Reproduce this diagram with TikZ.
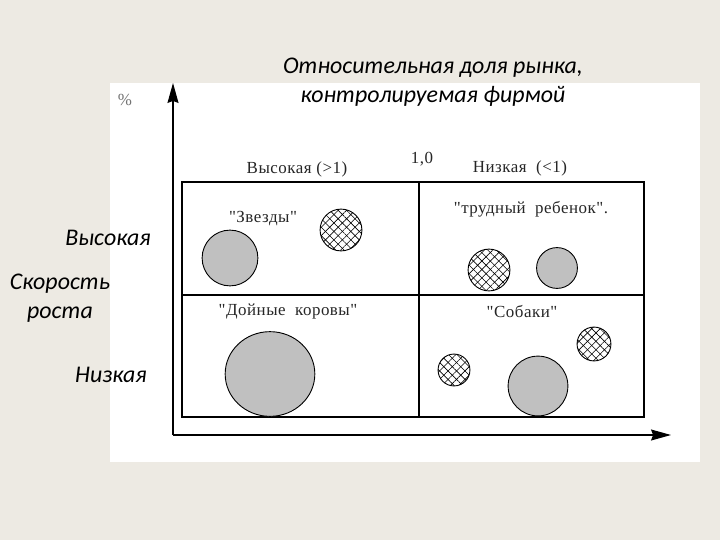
\documentclass[tikz,border=0pt]{standalone}
\usepackage{fontspec}
\setmainfont{Carlito}
\newfontfamily\scanfont[LetterSpace=3]{Liberation Serif}
\usepackage{tikz}
\usetikzlibrary{arrows.meta,positioning,shapes.geometric,patterns.meta}
\definecolor{slide}{HTML}{EDEAE3}
\definecolor{bubble}{HTML}{C0C0C0}

\begin{document}
\begin{tikzpicture}[x=1bp,y=-1bp,
  slidelabel/.style={font=\fontsize{24}{29}\selectfont\itshape,align=center,inner sep=0pt},
  scanlabel/.style={font=\fontsize{17}{20}\scanfont,text=black!85,inner sep=0pt},
  solid bubble/.style={circle,draw,line width=0.9pt,fill=bubble,inner sep=0pt},
  hatched bubble/.style={circle,draw,line width=0.9pt,inner sep=0pt,
    pattern={Lines[angle=45,distance=6pt,line width=0.6pt]},
    postaction={pattern={Lines[angle=-45,distance=6pt,line width=0.6pt]}}},
  axis/.style={line width=1.2pt,-{Stealth[length=20pt,width=11pt,inset=2pt]}}]
\useasboundingbox (0,0) rectangle (720,540);
\fill[slide] (0,0) rectangle (720,540);
\fill[white] (110,83) rectangle (700,462);
% axes
\coordinate (o) at (173,435);
\coordinate (ytip) at (173,83);
\coordinate (xtip) at (671,435);
\draw[axis] (o) -- (ytip);
\draw[axis] (o) -- (xtip);
% matrix
\draw[line width=1.2pt] (182,182) rectangle (644,417);
\draw[line width=1.2pt] (419,182) -- (419,417);
\draw[line width=1.2pt] (182,295) -- (644,295);
% slide texts
\node[slidelabel] (title) at (433,82) {Относительная доля рынка,\\контролируемая фирмой};
\node[slidelabel,anchor=east] (hi) at (151,238) {Высокая};
\node[slidelabel] (speed) at (60,298) {Скорость\\роста};
\node[slidelabel,anchor=east] (lo) at (147,375) {Низкая};
% scanned texts
\node[scanlabel,text=black!55] (pct) at (125,100) {\%};
\node[scanlabel] (one) at (422,159) {1,0};
\node[scanlabel] (high) at (297,169) {Высокая (>1)};
\node[scanlabel] (low) at (520,168) {Низкая~~(<1)};
\node[scanlabel] (stars) at (263,219) {"Звезды"};
\node[scanlabel] (child) at (531,209) {"трудный~ ребенок".};
\node[scanlabel] (cows) at (288,312) {"Дойные~ коровы"};
\node[scanlabel] (dogs) at (522,312) {"Собаки"};
% bubbles
\node[solid bubble,minimum size=56] (s1) at (230,258) {};
\node[hatched bubble,minimum size=42] (s2) at (341,230) {};
\node[hatched bubble,minimum size=42] (q1) at (489,270) {};
\node[solid bubble,minimum size=41] (q2) at (557,268) {};
\node[solid bubble,ellipse,minimum width=90,minimum height=85] (c1) at (270,374) {};
\node[hatched bubble,minimum size=32] (d1) at (454,370) {};
\node[solid bubble,minimum size=60] (d2) at (538,386) {};
\node[hatched bubble,minimum size=34] (d3) at (594,344) {};
\end{tikzpicture}
\end{document}
